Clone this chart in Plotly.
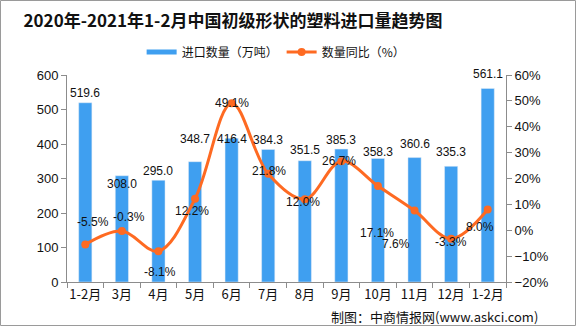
import plotly.graph_objects as go

months = ["1-2月", "3月", "4月", "5月", "6月", "7月", "8月", "9月", "10月", "11月", "12月", "1-2月"]
volume = [519.6, 308.0, 295.0, 348.7, 416.4, 384.3, 351.5, 385.3, 358.3, 360.6, 335.3, 561.1]
yoy = [-5.5, -0.3, -8.1, 12.2, 49.1, 21.8, 12.0, 26.7, 17.1, 7.6, -3.3, 8.0]

bar_label_dy = [9, -9, 8, 22, -2, 8, 10, 8, 5, 13, 13, 13]
line_label_dx = [8, 7, 2, -3, 0, 1, -2, -2, -1, -19, 0, -8]
line_label_dy = [22, 14, -21, -12, 0, 3, -3, 0, -47, -33, -3, -17]

BLUE = "#3f9ff0"
ORANGE = "#fe6a22"
AXIS = "#8c8c8c"
LABEL_FONT = dict(family="Liberation Sans, DejaVu Sans, sans-serif", size=12, color="#111111")

x = list(range(len(months)))

fig = go.Figure()
fig.add_trace(go.Bar(
    x=x, y=volume, name="进口数量（万吨）", marker_color=BLUE, width=0.36,
    yaxis="y", showlegend=False,
))
fig.add_trace(go.Scatter(
    x=x, y=yoy, name="数量同比（%）", yaxis="y2", mode="lines+markers",
    line=dict(color=ORANGE, width=3, shape="spline", smoothing=1.0),
    marker=dict(color=ORANGE, size=8), showlegend=False,
))
# legend entries (line-style swatches as in the reference)
fig.add_trace(go.Scatter(
    x=[None], y=[None], name="进口数量（万吨）", mode="lines",
    line=dict(color=BLUE, width=5), legendrank=1,
))
fig.add_trace(go.Scatter(
    x=[None], y=[None], name="数量同比（%）", mode="lines+markers", yaxis="y2",
    line=dict(color=ORANGE, width=3), marker=dict(color=ORANGE, size=8), legendrank=2,
))

annotations = []
for i, v in enumerate(volume):
    annotations.append(dict(
        x=i, y=v, xref="x", yref="y", text=f"{v:.1f}", showarrow=False,
        yshift=bar_label_dy[i] + 1, yanchor="middle", font=LABEL_FONT,
    ))
for i, p in enumerate(yoy):
    annotations.append(dict(
        x=i, y=p, xref="x", yref="y2", text=f"{p:.1f}%", showarrow=False,
        xshift=line_label_dx[i], yshift=line_label_dy[i], yanchor="middle",
        font=LABEL_FONT,
    ))
annotations.append(dict(
    x=(540 - 67) / 439, y=(282 - 316) / 207, xref="paper", yref="paper",
    text="制图：中商情报网(www.askci.com)", showarrow=False,
    xanchor="right", yanchor="middle",
    font=dict(family="Noto Sans CJK SC", size=13, color="#111111"),
))

fig.update_layout(
    width=576, height=326,
    margin=dict(l=67, r=70, t=75, b=44),
    paper_bgcolor="white", plot_bgcolor="white",
    title=dict(
        text="<b>2020年-2021年1-2月中国初级形状的塑料进口量趋势图</b>",
        x=233 / 576, xref="container", xanchor="center",
        y=1 - 21 / 326, yref="container", yanchor="middle",
        font=dict(family="Noto Sans CJK SC", size=17, color="#111111"),
    ),
    legend=dict(
        orientation="h", x=0.17, xanchor="left", y=(282 - 52) / 207, yanchor="middle",
        font=dict(family="Noto Sans CJK SC", size=12, color="#111111"),
        itemwidth=30, bgcolor="rgba(0,0,0,0)",
        entrywidth=95, entrywidthmode="pixels",
    ),
    bargap=0.6,
    xaxis=dict(
        range=[-0.5, len(months) - 0.5], tickvals=x, ticktext=months,
        showline=True, linecolor=AXIS, linewidth=1, ticks="", showgrid=False,
        zeroline=False,
        tickfont=dict(family="Noto Sans CJK SC", size=13, color="#111111"),
        minor=dict(ticks="outside", tick0=-0.5, dtick=1, ticklen=5, tickcolor=AXIS, showgrid=False),
    ),
    yaxis=dict(
        range=[0, 600], dtick=100, showline=True, linecolor=AXIS, linewidth=1,
        ticks="outside", ticklen=5, tickcolor=AXIS, showgrid=False, zeroline=False,
        tickfont=dict(family="Liberation Sans, sans-serif", size=13, color="#111111"),
    ),
    yaxis2=dict(
        range=[-20, 60], dtick=10, ticksuffix="%", overlaying="y", side="right",
        showline=True, linecolor=AXIS, linewidth=1, ticks="outside", ticklen=5,
        tickcolor=AXIS, showgrid=False, zeroline=False,
        tickfont=dict(family="Liberation Sans, sans-serif", size=13, color="#111111"),
    ),
    annotations=annotations,
    shapes=[dict(
        type="rect", xref="paper", yref="paper",
        x0=(0.5 - 67) / 439, x1=(575.5 - 67) / 439,
        y0=(282 - 325.5) / 207, y1=(282 - 0.5) / 207,
        line=dict(color="#9a9a9a", width=1), layer="below",
    )],
)

fig.write_html("out.html")
